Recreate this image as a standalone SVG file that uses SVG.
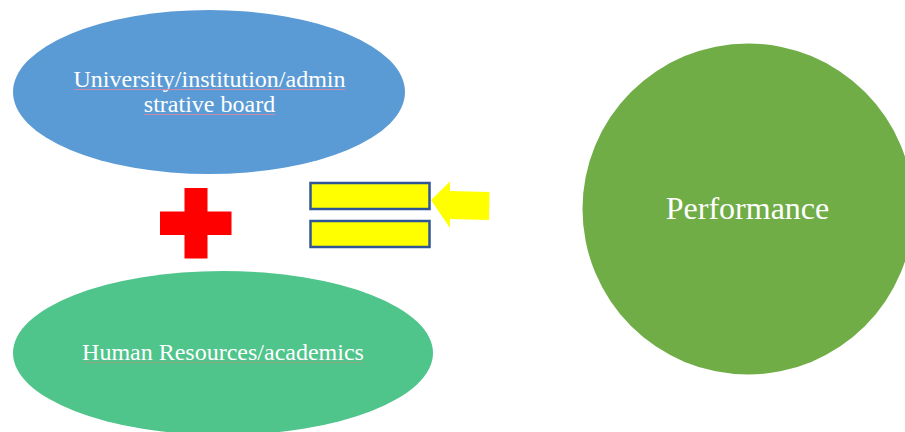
<svg xmlns="http://www.w3.org/2000/svg" width="905" height="432" viewBox="0 0 905 432">
  <style>
    .lbl { font-family: "Liberation Serif", "Times New Roman", serif; fill: #ffffff; text-anchor: middle; }
    .eq { fill: #ffff00; stroke: #2f5597; stroke-width: 2.5; }
    .sp { stroke-width: 1; fill: none; }
  </style>
  <rect width="905" height="432" fill="#ffffff"/>
  <g id="university">
    <ellipse cx="209" cy="92" rx="196" ry="82" fill="#5b9bd5"/>
    <text class="lbl" x="209.5" y="87" font-size="24">University/institution/admin</text>
    <text class="lbl" x="209.5" y="112" font-size="24">strative board</text>
    <line class="sp" x1="74" y1="89.5" x2="345" y2="89.5" stroke="#c98aa8"/>
    <line class="sp" x1="144" y1="114.5" x2="275" y2="114.5" stroke="#c98aa8"/>
  </g>
  <g id="plus">
    <rect x="184.5" y="188" width="23" height="70.5" fill="#ff0000"/>
    <rect x="160" y="211.5" width="71.5" height="23.5" fill="#ff0000"/>
  </g>
  <g id="human">
    <ellipse cx="223" cy="353" rx="210" ry="82" fill="#4fc48b"/>
    <text class="lbl" x="223" y="360" font-size="24">Human Resources/academics</text>
    <line class="sp" x1="83" y1="362.5" x2="363" y2="362.5" stroke="#d9826e" stroke-opacity="0.45"/>
  </g>
  <g id="equals">
    <rect class="eq" x="310.5" y="183" width="119" height="26"/>
    <rect class="eq" x="310.5" y="221" width="119" height="26"/>
  </g>
  <g id="arrow">
    <polygon points="431,200 450,181.5 450,191 489.5,192 489,220 450,219 450,228" fill="#ffff00"/>
  </g>
  <g id="performance">
    <circle cx="748" cy="209" r="165.5" fill="#70ad47"/>
    <text class="lbl" x="747.5" y="219" font-size="32">Performance</text>
  </g>
  <g id="connectors"/>
</svg>
